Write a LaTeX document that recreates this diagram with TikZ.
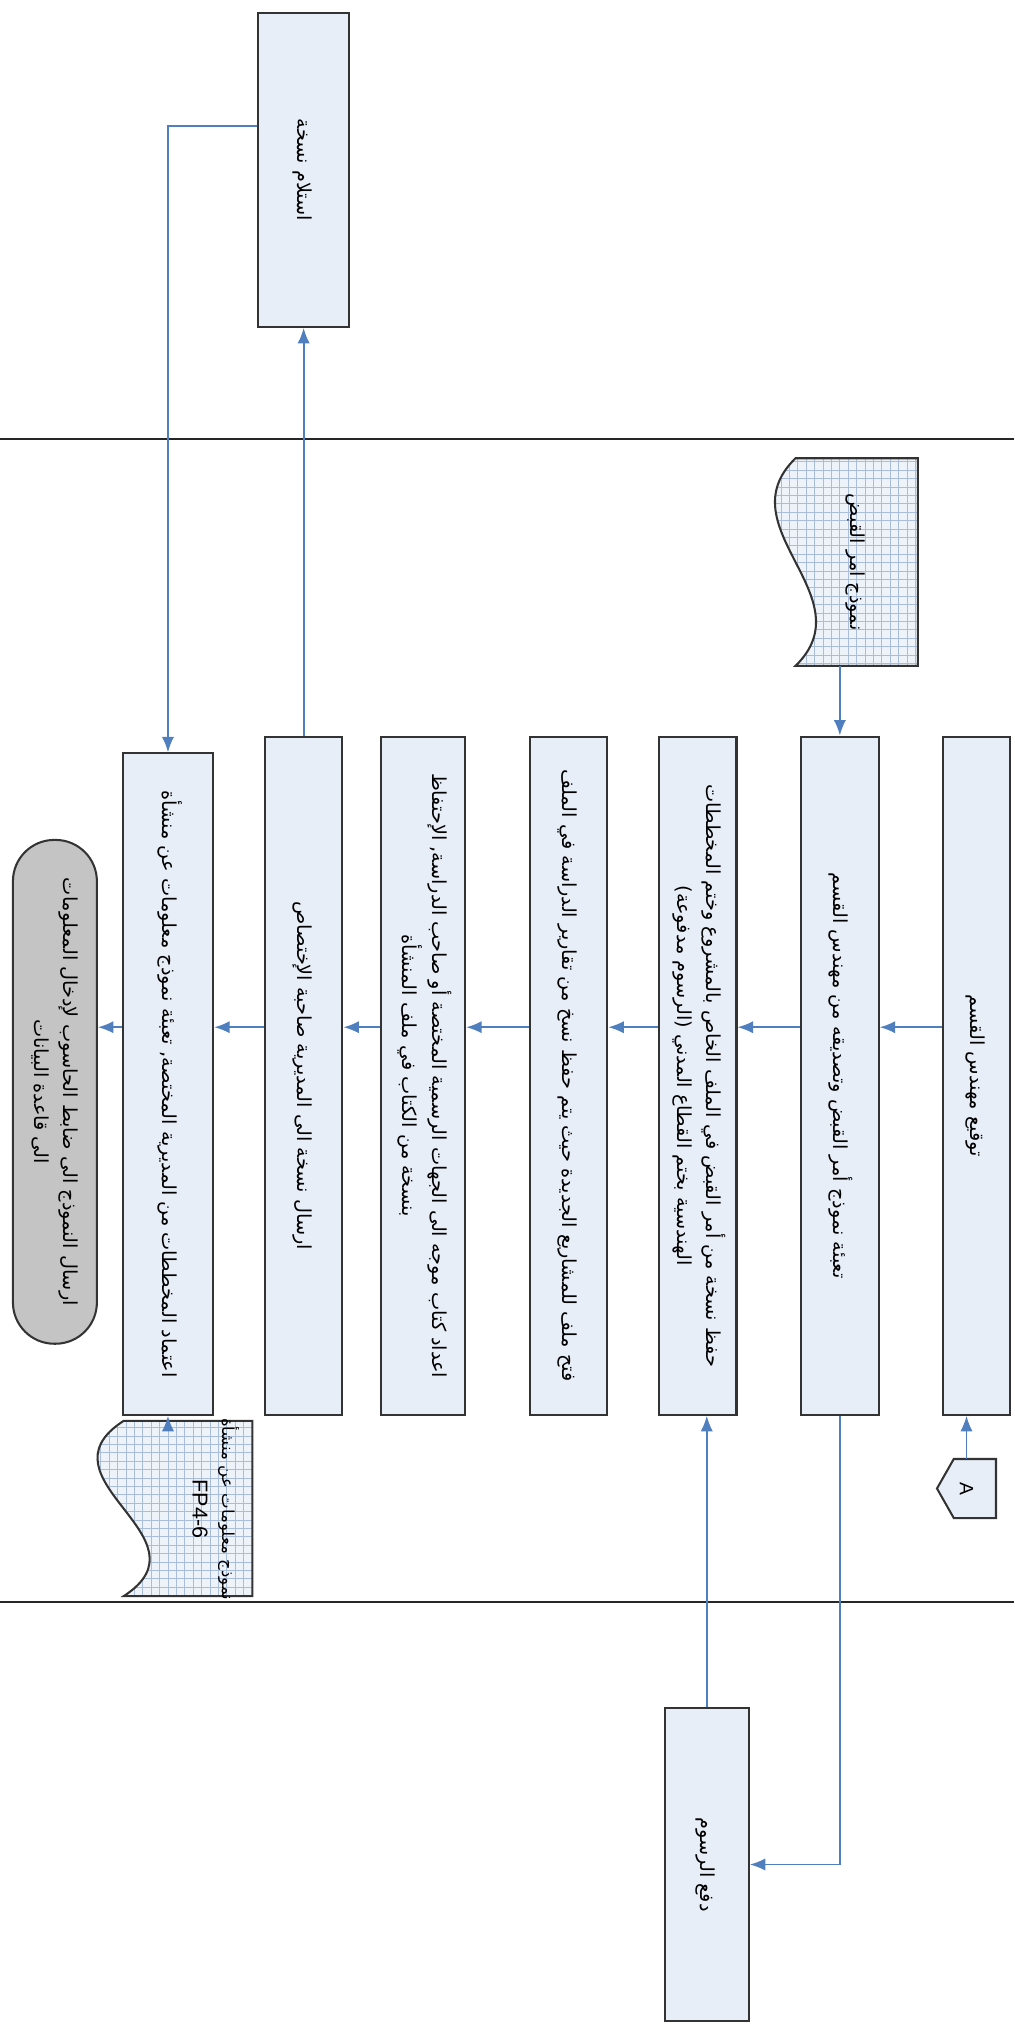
\documentclass[tikz,border=0pt]{standalone}
\usepackage{fontspec}
\usepackage{graphicx}
\newfontfamily\arabicfont[Script=Arabic]{DejaVu Sans}
\newfontfamily\latinsans{Liberation Sans}
\TeXXeTstate=1
\usetikzlibrary{positioning,arrows.meta,calc,backgrounds}

\definecolor{boxblue}{HTML}{E8EEF7}
\definecolor{flowblue}{HTML}{4F7FBF}
\definecolor{gridblue}{HTML}{A9BEDD}
\definecolor{docbg}{HTML}{EEF3FA}
\definecolor{termgray}{HTML}{C4C4C4}

% rotated (top-to-bottom) label, one line per \\
\newcommand{\vlbl}[1]{\rotatebox{-90}{\arabicfont\begin{tabular}{@{}c@{}}#1\end{tabular}}}
\newcommand{\arline}[1]{\beginR #1\endR}

% document shape with a wavy left side, drawn round a body node
\newcommand{\docshape}[2]{%
	\begin{scope}
		\clip (#1.north east) -- (#1.north west)
			.. controls ($(#1.north west)!0.333!(#1.south west)+(-#2,0)$) and ($(#1.north west)!0.667!(#1.south west)+(#2,0)$) .. (#1.south west)
			-- (#1.south east) -- cycle;
		\fill[docbg] ($(#1.south west)+(-40,0)$) rectangle (#1.north east);
		\draw[gridblue, line width=0.35pt, step=0.13cm] ($(#1.south west)+(-40,0)$) grid (#1.north east);
	\end{scope}
	\draw[black!80, line width=0.9pt] (#1.north east) -- (#1.north west)
		.. controls ($(#1.north west)!0.333!(#1.south west)+(-#2,0)$) and ($(#1.north west)!0.667!(#1.south west)+(#2,0)$) .. (#1.south west)
		-- (#1.south east) -- cycle;
}

\begin{document}
\begin{tikzpicture}[
	x=0.02cm, y=-0.02cm,
	font=\fontsize{8.5}{13}\selectfont,
	stepbox/.style={
		draw=black!80,
		line width=0.9pt,
		fill=boxblue,
		inner sep=0pt,
		minimum width=1.2cm,
		minimum height=10.5cm,
	},
	termbox/.style={
		draw=black!80,
		line width=0.9pt,
		fill=termgray,
		rounded corners=0.64cm,
		inner sep=0pt,
		minimum width=1.3cm,
		minimum height=7.8cm,
	},
	docbody/.style={inner sep=0pt},
	flow/.style={-{Latex[length=2.4mm,width=1.9mm]}, draw=flowblue, line width=0.8pt},
	lane/.style={black!85, line width=0.9pt},
]

\useasboundingbox (0,0) rectangle (785,1568);

% --- Lanes ---
\draw[lane] (0,340) -- (785,340);
\draw[lane] (0,1240) -- (785,1240);

% --- Upper lane ---
\node[stepbox, minimum width=1.4cm, minimum height=4.86cm] (rcv) at (235,131.5)
	{\vlbl{\arline{استلام نسخة}}};

% --- Middle lane: steps ---
\node[stepbox, minimum width=1.04cm] (s1) at (756,832.5)
	{\vlbl{\arline{توقيع مهندس القسم}}};
\node[stepbox] (s2) at (650,832.5)
	{\vlbl{\arline{تعبئة نموذج أمر القبض وتصديقه من مهندس القسم}}};
\node[stepbox] (s3) at (540,832.5)
	{\vlbl{\arline{حفظ نسخة من أمر القبض في الملف الخاص بالمشروع وختم المخططات}\\
		\arline{الهندسية بختم القطاع المدني (الرسوم مدفوعة)}}};
\node[stepbox] (s4) at (440,832.5)
	{\vlbl{\arline{فتح ملف للمشاريع الجديدة حيث يتم حفظ نسخ من تقارير الدراسة في الملف}}};
\node[stepbox, minimum width=1.3cm] (s5) at (327.5,832.5)
	{\vlbl{\arline{اعداد كتاب موجه الى الجهات الرسمية المختصة أو صاحب الدراسة, الإحتفاظ}\\
		\arline{بنسخة من الكتاب في ملف المنشأة}}};
\node[stepbox] (s6) at (235,832.5)
	{\vlbl{\arline{ارسال نسخة الى المديرية صاحبة الإختصاص}}};
\node[stepbox, minimum width=1.4cm, minimum height=10.24cm] (s7) at (130,839)
	{\vlbl{\arline{اعتماد المخططات من المديرية المختصة, تعبئة نموذج معلومات عن منشأة}}};
\node[termbox] (s8) at (42.5,845)
	{\vlbl{\arline{ارسال النموذج الى ضابط الحاسوب لإدخال المعلومات}\\
		\arline{الى قاعدة البيانات}}};

% --- Documents and off-page connector ---
\node[docbody, minimum width=1.88cm, minimum height=3.2cm] (frm) at (663,435)
	{\vlbl{\arline{نموذج امر القبض}}};
\node[docbody, minimum width=1.98cm, minimum height=2.7cm] (fmi) at (145.5,1167.5) {};
\node[inner sep=0pt] (fmitxt) at (165,1168)
	{\rotatebox{-90}{\begin{tabular}{@{}c@{}}\arabicfont\fontsize{7.3}{12}\selectfont\arline{نموذج معلومات عن منشأة}\\
		\latinsans\fontsize{9.5}{12}\selectfont FP4-6\end{tabular}}};
\node[inner sep=0pt, minimum width=0.9cm, minimum height=0.9cm] (pgA) at (748,1152)
	{\rotatebox{-90}{\latinsans A}};

\begin{pgfonlayer}{background}
	\docshape{frm}{55}
	\docshape{fmi}{70}
	\draw[black!80, line width=0.9pt, fill=boxblue] (pgA.north east) -- (pgA.south east)
		-- ($(pgA.south west)+(13,0)$) -- (pgA.west) -- ($(pgA.north west)+(13,0)$) -- cycle;
\end{pgfonlayer}

% --- Lower lane ---
\node[stepbox, minimum width=1.3cm, minimum height=4.84cm] (pay) at (547,1443)
	{\vlbl{\arline{دفع الرسوم}}};

% --- Flow ---
\coordinate (lvl) at (0,795);
\foreach \a/\b in {s1/s2,s2/s3,s3/s4,s4/s5,s5/s6,s6/s7,s7/s8}
	\draw[flow] (\a.west |- lvl) -- (\b.east |- lvl);

\draw[flow] (s2.north |- frm.south) -- (s2.north);
\draw[flow] (s6.north) -- (rcv.south);
\draw[flow] ($(rcv.north west)!0.36!(rcv.south west)$) -| (s7.north);
\draw[flow] (s2.south) |- (pay.east);
\draw[flow] (pay.north) -- (pay.north |- s3.south);
\draw[flow] (pgA.north) -- (pgA.north |- s1.south);
\draw[flow] (s7.south |- fmi.north) -- (s7.south);

\end{tikzpicture}
\end{document}
